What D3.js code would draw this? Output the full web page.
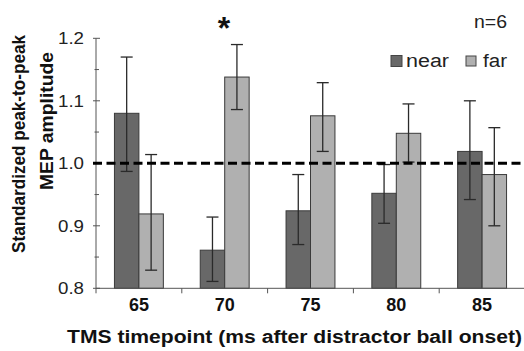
<!DOCTYPE html>
<html><head><meta charset="utf-8">
<script src="https://cdn.jsdelivr.net/npm/d3@7"></script>
<style>body{margin:0;background:#fff}svg{display:block;font-family:"Liberation Sans",Arial,sans-serif}</style>
</head><body>
<script>
const categories = ["65","70","75","80","85"];
const series = ["near","far"];
const nearMean = [1.080, 0.861, 0.924, 0.952, 1.019];
const nearHi   = [1.170, 0.914, 0.982, 0.998, 1.100];
const nearLo   = [0.987, 0.811, 0.870, 0.904, 0.942];
const farMean  = [0.919, 1.138, 1.076, 1.048, 0.982];
const farHi    = [1.014, 1.190, 1.129, 1.095, 1.057];
const farLo    = [0.829, 1.086, 1.019, 1.002, 0.900];
const yTicks = [0.8, 0.9, 1.0, 1.1, 1.2];
const yMinorTicks = [0.85, 0.95, 1.05, 1.15];
const refValue = 1.0;
const colors = {near:"#686868", far:"#b0b0b0"};

const W=524,H=351;
const svg=d3.select("body").append("svg").attr("width",W).attr("height",H);
const x=d3.scaleBand().domain(categories).range([96,525]).paddingInner(0).paddingOuter(0);
const y=d3.scaleLinear().domain([0.8,1.2]).range([288.3,38.3]);
const barW = x.bandwidth()*0.285;

const rows = categories.map((c,i)=>({c, near:{m:nearMean[i],hi:nearHi[i],lo:nearLo[i]}, far:{m:farMean[i],hi:farHi[i],lo:farLo[i]}}));

// bars
series.forEach((s,si)=>{
  svg.append("g").selectAll("rect").data(rows).join("rect")
    .attr("x",d=>x(d.c)+x.bandwidth()/2 + (si===0?-barW:0))
    .attr("width",barW)
    .attr("y",d=>y(d[s].m))
    .attr("height",d=>y(0.8)-y(d[s].m))
    .attr("fill",colors[s]).attr("stroke","#3a3a3a").attr("stroke-width",1);
});
// error bars
series.forEach((s,si)=>{
  const g=svg.append("g").attr("stroke","#2a2a2a").attr("stroke-width",1.3);
  rows.forEach(d=>{
    const cx=x(d.c)+x.bandwidth()/2 + (si===0?-barW/2:barW/2);
    g.append("line").attr("x1",cx).attr("x2",cx).attr("y1",y(d[s].hi)).attr("y2",y(d[s].lo));
    g.append("line").attr("x1",cx-6).attr("x2",cx+6).attr("y1",y(d[s].hi)).attr("y2",y(d[s].hi));
    g.append("line").attr("x1",cx-6).attr("x2",cx+6).attr("y1",y(d[s].lo)).attr("y2",y(d[s].lo));
  });
});

// axes
const axCol="#555";
svg.append("line").attr("x1",96).attr("x2",96).attr("y1",y(1.2)).attr("y2",y(0.8)).attr("stroke",axCol);
svg.append("line").attr("x1",96).attr("x2",525).attr("y1",y(0.8)).attr("y2",y(0.8)).attr("stroke",axCol);
svg.append("g").selectAll("line").data(yTicks).join("line")
  .attr("x1",93).attr("x2",100).attr("y1",d=>y(d)).attr("y2",d=>y(d)).attr("stroke",axCol);
svg.append("g").selectAll("line").data(yMinorTicks).join("line")
  .attr("x1",94.5).attr("x2",99).attr("y1",d=>y(d)).attr("y2",d=>y(d)).attr("stroke",axCol);
const bounds = categories.map(c=>x(c)).concat([x(categories[categories.length-1])+x.bandwidth()]);
svg.append("g").selectAll("line").data(bounds).join("line")
  .attr("x1",d=>d).attr("x2",d=>d).attr("y1",y(0.8)).attr("y2",y(0.8)+5).attr("stroke",axCol);

// y tick labels
svg.append("g").selectAll("text").data(yTicks).join("text")
  .attr("x",58).attr("y",d=>y(d)+5.8)
  .attr("font-size",16).attr("fill","#222")
  .attr("textLength",26).attr("lengthAdjust","spacingAndGlyphs")
  .text(d=>d.toFixed(1));
// x tick labels
svg.append("g").selectAll("text").data(categories).join("text")
  .attr("x",d=>x(d)+x.bandwidth()/2).attr("y",311)
  .attr("text-anchor","middle").attr("font-size",18).attr("font-weight","bold").attr("fill","#111")
  .text(d=>d);

// reference dashed line
svg.append("line").attr("x1",93).attr("x2",524).attr("y1",y(refValue)).attr("y2",y(refValue))
  .attr("stroke","#000").attr("stroke-width",3).attr("stroke-dasharray","9,4.5");

// titles
svg.append("text").attr("x",67).attr("y",342.5).attr("font-size",18).attr("font-weight","bold").attr("fill","#111")
  .attr("textLength",455).attr("lengthAdjust","spacingAndGlyphs")
  .text("TMS timepoint (ms after distractor ball onset)");
svg.append("text").attr("transform","translate(25,35) rotate(-90)").attr("text-anchor","end")
  .attr("font-size",18).attr("font-weight","bold").attr("fill","#111")
  .attr("textLength",218).attr("lengthAdjust","spacingAndGlyphs")
  .text("Standardized peak-to-peak");
svg.append("text").attr("transform","translate(53,52) rotate(-90)").attr("text-anchor","end")
  .attr("font-size",18).attr("font-weight","bold").attr("fill","#111")
  .attr("textLength",138).attr("lengthAdjust","spacingAndGlyphs")
  .text("MEP amplitude");

// star
svg.append("text").attr("x",224).attr("y",39).attr("text-anchor","middle")
  .attr("font-size",32).attr("font-weight","bold").attr("fill","#111").text("*");
// n=6
svg.append("text").attr("x",474).attr("y",28).attr("font-size",18).attr("fill","#222")
  .attr("textLength",33).attr("lengthAdjust","spacingAndGlyphs").text("n=6");

// legend
const leg=[{s:"near",rx:391,ry:55.5,sz:11,tx:406,tl:43},{s:"far",rx:466,ry:56,sz:10,tx:483,tl:24}];
leg.forEach(l=>{
  svg.append("rect").attr("x",l.rx).attr("y",l.ry).attr("width",l.sz).attr("height",l.sz)
    .attr("fill",colors[l.s]).attr("stroke","#444");
  svg.append("text").attr("x",l.tx).attr("y",67).attr("font-size",18).attr("fill","#222")
    .attr("textLength",l.tl).attr("lengthAdjust","spacingAndGlyphs").text(l.s);
});
</script>
</body></html>
